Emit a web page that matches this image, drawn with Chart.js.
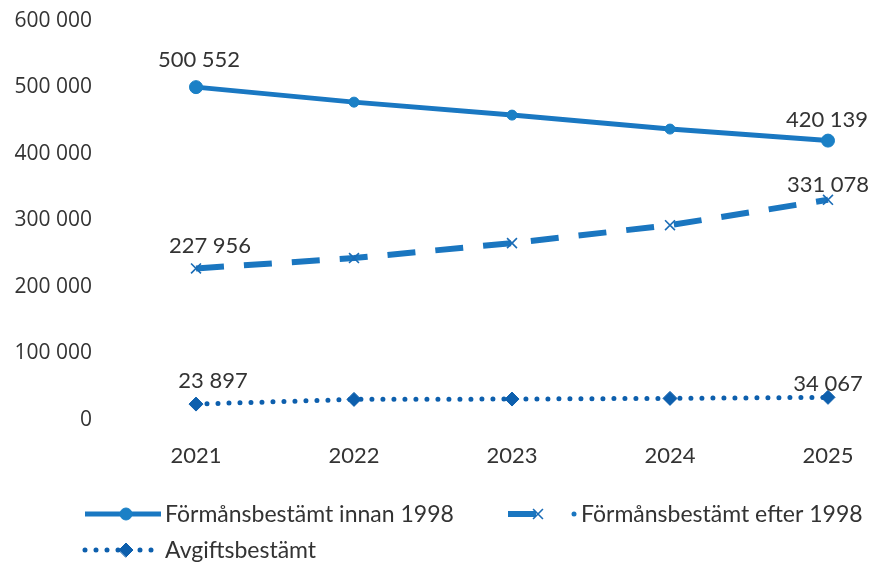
<!DOCTYPE html>
<html>
<head>
<meta charset="utf-8">
<script src="https://cdn.jsdelivr.net/npm/chart.js@4"></script>
<style>
  html, body { margin: 0; padding: 0; background: #fff; }
  #wrap { width: 874px; height: 566px; }
</style>
</head>
<body>
<div id="wrap"><canvas id="pension-chart"></canvas></div>
<script>
const years = ['2021', '2022', '2023', '2024', '2025'];
const innanValues = [500552, 478000, 458500, 437500, 420139];
const efterValues = [227956, 243500, 266000, 293000, 331078];
const avgiftValues = [23897, 31000, 31500, 32500, 34067];
const seriesNames = ['Förmånsbestämt innan 1998', 'Förmånsbestämt efter 1998', 'Avgiftsbestämt'];
const yTicks = [0, 100000, 200000, 300000, 400000, 500000, 600000];

const textColor = '#333333';
const labelFont = 'Lato';

// Format numbers with a space as thousands separator
const fmt = (v) => String(v).replace(/\B(?=(\d{3})+(?!\d))/g, ' ');

const endRadius = (big, small) => (ctx) =>
  (ctx.dataIndex === 0 || ctx.dataIndex === years.length - 1) ? big : small;

// Where the value labels sit relative to first / last point
const labelOffsets = [
  [[3, -27], [-1, -21]],
  [[14, -23], [0, -15]],
  [[17, -23], [0, -13]]
];

const endLabels = {
  id: 'endLabels',
  afterDatasetsDraw(chart) {
    const ctx = chart.ctx;
    ctx.save();
    ctx.font = `22px ${labelFont}`;
    ctx.fillStyle = textColor;
    ctx.textAlign = 'center';
    ctx.textBaseline = 'middle';
    chart.data.datasets.forEach((ds, i) => {
      const meta = chart.getDatasetMeta(i);
      [0, ds.data.length - 1].forEach((idx, k) => {
        const pt = meta.data[idx];
        const [dx, dy] = labelOffsets[i][k];
        ctx.fillText(fmt(ds.data[idx]), pt.x + dx, pt.y + dy);
      });
    });
    ctx.restore();
  }
};

// Legend with line + marker, drawn below the axis
const legendSpots = [[85, 514], [508, 514], [85, 550]];
const lineLegend = {
  id: 'lineLegend',
  afterDraw(chart) {
    const ctx = chart.ctx;
    chart.data.datasets.forEach((ds, i) => {
      const [x, y] = legendSpots[i];
      const lineLen = ds.legendLine || 76;
      ctx.save();
      ctx.strokeStyle = ds.borderColor;
      ctx.lineWidth = ds.borderWidth;
      ctx.lineCap = ds.borderCapStyle || 'butt';
      ctx.setLineDash(ds.borderDash || []);
      ctx.beginPath();
      ctx.moveTo(x, y);
      ctx.lineTo(x + lineLen, y);
      ctx.stroke();
      if (ds.legendDot) {
        ctx.fillStyle = ds.borderColor;
        ctx.beginPath();
        ctx.arc(x + ds.legendDot, y, 2.5, 0, Math.PI * 2);
        ctx.fill();
      }
      ctx.setLineDash([]);
      ctx.fillStyle = ds.pointBackgroundColor;
      ctx.strokeStyle = ds.pointBorderColor;
      ctx.lineWidth = ds.pointBorderWidth;
      Chart.helpers.drawPoint(ctx, {
        pointStyle: ds.pointStyle,
        radius: ds.legendRadius,
        borderWidth: ds.pointBorderWidth
      }, x + ds.legendMarker, y);
      ctx.restore();
      ctx.save();
      ctx.font = `23px ${labelFont}`;
      ctx.fillStyle = textColor;
      ctx.textBaseline = 'middle';
      ctx.fillText(ds.label, x + ds.legendText, y + 1);
      ctx.restore();
    });
  }
};

const chartCfg = {
  type: 'line',
  data: {
    labels: years,
    datasets: [{
      label: seriesNames[0],
      data: innanValues,
      borderColor: '#1a78c2',
      borderWidth: 5,
      pointStyle: 'circle',
      pointRadius: endRadius(6.5, 5),
      legendRadius: 6,
      legendMarker: 41,
      legendText: 80,
      pointBackgroundColor: '#1b80c6',
      pointBorderColor: '#1b80c6',
      pointBorderWidth: 1,
      tension: 0
    }, {
      label: seriesNames[1],
      data: efterValues,
      borderColor: '#1a76c0',
      borderWidth: 6,
      borderDash: [28, 20],
      legendLine: 45,
      legendDot: 66,
      legendMarker: 30,
      legendText: 73,
      pointStyle: 'crossRot',
      pointRadius: 7,
      legendRadius: 7,
      pointBackgroundColor: '#1a6cb6',
      pointBorderColor: '#1a6cb6',
      pointBorderWidth: 1.6,
      tension: 0
    }, {
      label: seriesNames[2],
      data: avgiftValues,
      borderColor: '#0d5fad',
      borderWidth: 5,
      borderDash: [0, 11],
      borderCapStyle: 'round',
      pointStyle: 'rectRot',
      pointRadius: 7,
      legendRadius: 7,
      legendMarker: 41,
      legendText: 80,
      pointBackgroundColor: '#0d5fad',
      pointBorderColor: '#0d5fad',
      pointBorderWidth: 1,
      tension: 0
    }]
  },
  options: {
    responsive: true,
    maintainAspectRatio: false,
    animation: false,
    layout: { padding: { top: 21, right: 46, left: 0, bottom: 0 } },
    plugins: {
      legend: { display: false },
      tooltip: { enabled: false }
    },
    scales: {
      x: {
        offset: false,
        grid: { display: false, drawTicks: false },
        border: { display: false },
        ticks: {
          padding: 23,
          color: textColor,
          font: { family: labelFont, size: 22 },
          maxRotation: 0
        },
        afterFit(scale) {
          scale.height = 146;
          scale.paddingLeft = 0;
          scale.paddingRight = 0;
        }
      },
      y: {
        min: 0,
        max: 600000,
        grid: { display: false, drawTicks: false },
        border: { display: false },
        afterBuildTicks(scale) { scale.ticks = yTicks.map(v => ({ value: v })); },
        ticks: {
          padding: 104,
          color: textColor,
          font: { family: 'Open Sans', size: 21 },
          callback: (v) => fmt(v)
        },
        afterFit(scale) {
          scale.width = 196;
          scale.paddingTop = 10;
          scale.paddingBottom = 10;
        }
      }
    }
  },
  plugins: [endLabels, lineLegend]
};

new Chart(document.getElementById('pension-chart'), chartCfg);
</script>
</body>
</html>
